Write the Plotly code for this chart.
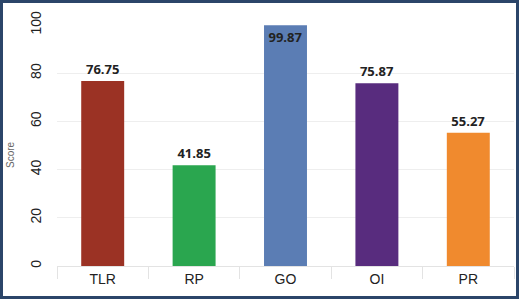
import plotly.graph_objects as go

categories = ["TLR", "RP", "GO", "OI", "PR"]
scores = [76.75, 41.85, 99.87, 75.87, 55.27]
colors = ["#9b3224", "#2aa64f", "#5b7db4", "#582c7e", "#f08a2e"]
text_positions = ["outside", "outside", "inside", "outside", "outside"]

W, H = 519, 299
ml, mr, mt, mb = 57, 5, 25, 33
pw = W - ml - mr
ph = H - mt - mb

fig = go.Figure(go.Bar(
    x=categories, y=scores,
    marker=dict(color=colors, line=dict(width=0)),
    text=[f"{v:.2f}" for v in scores],
    textposition=text_positions,
    insidetextanchor="end",
    textfont=dict(family="Open Sans, DejaVu Sans, sans-serif", size=13, color="#222222", weight="bold"),
    cliponaxis=False,
))

# frame border around whole image
bw = 3
fig.add_shape(type="rect", xref="paper", yref="paper",
              x0=(-ml + bw / 2) / pw, x1=1 + (mr - bw / 2) / pw,
              y0=(-mb + bw / 2) / ph, y1=1 + (mt - bw / 2) / ph,
              line=dict(color="#2b4569", width=bw), layer="above")

# y-axis title placed as rotated text near the left border
fig.add_annotation(text="Score", xref="paper", yref="paper",
                   x=(10 - ml) / pw, y=(H - mb - 155) / ph,
                   showarrow=False, textangle=-90,
                   xanchor="center", yanchor="middle",
                   font=dict(family="Liberation Sans, Arial, sans-serif", size=10, color="#666666"))

tick_font = dict(family="Liberation Sans, Arial, sans-serif", size=14, color="#222222")

fig.update_layout(
    width=W, height=H,
    margin=dict(l=ml, r=mr, t=mt, b=mb),
    paper_bgcolor="white", plot_bgcolor="white",
    bargap=0.53,
    showlegend=False,
    font=dict(family="Open Sans, DejaVu Sans, sans-serif", color="#333333"),
    xaxis=dict(
        showline=True, linecolor="#e3e3e3", linewidth=1,
        ticks="outside", tickson="boundaries", ticklen=12, tickcolor="#e3e3e3",
        tickfont=tick_font,
        showgrid=False,
    ),
    yaxis=dict(
        range=[0, 100],
        dtick=20,
        tickangle=-90,
        tickfont=tick_font,
        gridcolor="#eeeeee",
        zeroline=False,
        showline=False,
        ticks="",
        ticklabelstandoff=12,
    ),
)

fig.write_html("out.html")
